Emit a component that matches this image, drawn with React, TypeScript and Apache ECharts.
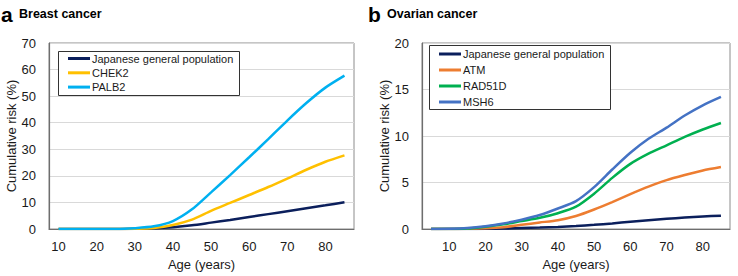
import React, { useEffect, useRef } from "react";
import * as echarts from "echarts";

const breastAges = ["10","15","20","25","30","35","40","45","50","55","60","65","70","75","80","85"];
const breastJapan = [0,0,0,0,0.1,0.3,0.7,1.4,2.4,3.4,4.5,5.6,6.7,7.8,8.9,10.1];
const breastCHEK2 = [0,0,0,0,0.1,0.4,1.5,3.5,6.8,9.8,12.8,15.8,19,22.3,25.3,27.7];
const breastPALB2 = [0,0,0,0,0.3,1.0,3.0,7.4,13.8,20.3,27,33.8,40.8,47.4,53.2,57.7];

const ovarianAges = ["5","10","15","20","25","30","35","40","45","50","55","60","65","70","75","80","85"];
const ovarianJapan = [0,0,0,0.02,0.05,0.1,0.15,0.22,0.32,0.45,0.6,0.78,0.95,1.1,1.23,1.35,1.43];
const ovarianATM = [0,0,0.02,0.08,0.2,0.45,0.7,0.95,1.4,2.1,2.9,3.75,4.55,5.25,5.8,6.3,6.67];
const ovarianRAD51D = [0,0,0.05,0.25,0.5,0.85,1.2,1.7,2.4,3.8,5.5,7.0,8.1,9.0,9.9,10.7,11.4];
const ovarianMSH6 = [0,0.02,0.1,0.3,0.6,1.0,1.5,2.2,3.0,4.5,6.4,8.2,9.7,10.9,12.2,13.3,14.2];

const FONT = "Liberation Sans";
const NAVY = "#0b1f5c";

export default function App() {
  const ref = useRef<HTMLDivElement>(null);
  useEffect(() => {
    const chart = echarts.init(ref.current!, null, { renderer: "svg" });
    const axisText = { fontFamily: FONT, fontSize: 13, color: "#1a1a1a" };
    const mkLine = (name: string, data: number[], color: string, xi: number) => ({
      name,
      type: "line",
      xAxisIndex: xi,
      yAxisIndex: xi,
      data,
      smooth: 0.25,
      symbol: "none",
      lineStyle: { color, width: 2.5 },
      itemStyle: { color },
    });
    const xAxisBase = {
      type: "category",
      boundaryGap: true,
      axisTick: { show: false },
      axisLine: { lineStyle: { color: "#6e6e6e", width: 1.2 } },
      axisLabel: { ...axisText, margin: 11 },
      name: "Age (years)",
      nameLocation: "middle",
      nameGap: 28,
      nameTextStyle: axisText,
    };
    const yAxisBase = {
      type: "value",
      axisLine: { show: true, lineStyle: { color: "#6e6e6e", width: 1.2 } },
      axisTick: { show: false },
      axisLabel: { ...axisText, margin: 13 },
      splitLine: { lineStyle: { color: "#d9d9d9" } },
      name: "Cumulative risk (%)",
      nameLocation: "middle",
      nameGap: 31,
      nameTextStyle: axisText,
    };
    const legendBase = {
      orient: "vertical",
      itemWidth: 22,
      itemHeight: 3,
      icon: "rect",
      textStyle: { fontFamily: FONT, fontSize: 11, color: "#1a1a1a", padding: [0, 0, 0, -3] },
      padding: 0,
      z: 6,
    };
    chart.setOption({
      animation: false,
      backgroundColor: "#fff",
      grid: [
        { left: 49, top: 43, width: 305, height: 186, show: true, borderColor: "#8c8c8c", borderWidth: 1 },
        { left: 422, top: 43, width: 308, height: 186, show: true, borderColor: "#8c8c8c", borderWidth: 1 },
      ],
      xAxis: [
        { ...xAxisBase, gridIndex: 0, data: breastAges, axisLabel: { ...xAxisBase.axisLabel, interval: 1 } },
        {
          ...xAxisBase,
          gridIndex: 1,
          data: ovarianAges,
          axisLabel: { ...xAxisBase.axisLabel, interval: (i: number, v: string) => Number(v) % 10 === 0 },
        },
      ],
      yAxis: [
        { ...yAxisBase, gridIndex: 0, min: 0, max: 70, interval: 10 },
        { ...yAxisBase, gridIndex: 1, min: 0, max: 20, interval: 5 },
      ],
      legend: [
        {
          ...legendBase,
          left: 68,
          top: 53,
          itemGap: 3.3,
          data: ["Japanese general population", "CHEK2", "PALB2"],
        },
        {
          ...legendBase,
          left: 439,
          top: 48.5,
          itemGap: 5,
          data: ["Japanese general population ", "ATM", "RAD51D", "MSH6"],
          formatter: (n: string) => n.trim(),
        },
      ],
      graphic: [
        { type: "rect", z: 5, shape: { x: 58.5, y: 51.5, width: 181, height: 44 }, style: { fill: "#fff", stroke: "#333", lineWidth: 1 } },
        { type: "rect", z: 5, shape: { x: 429.5, y: 45.5, width: 181, height: 64 }, style: { fill: "#fff", stroke: "#333", lineWidth: 1 } },
        { type: "text", left: 1, top: 4, style: { text: "a", font: `bold 21px ${FONT}`, fill: "#000" } },
        { type: "text", left: 19, top: 7, style: { text: "Breast cancer", font: `bold 12.5px ${FONT}`, fill: "#000" } },
        { type: "text", left: 368, top: 4, style: { text: "b", font: `bold 21px ${FONT}`, fill: "#000" } },
        { type: "text", left: 387, top: 7, style: { text: "Ovarian cancer", font: `bold 12.5px ${FONT}`, fill: "#000" } },
      ],
      series: [
        mkLine("Japanese general population", breastJapan, NAVY, 0),
        mkLine("CHEK2", breastCHEK2, "#ffc000", 0),
        mkLine("PALB2", breastPALB2, "#00b0f0", 0),
        mkLine("Japanese general population ", ovarianJapan, NAVY, 1),
        mkLine("ATM", ovarianATM, "#ed7d31", 1),
        mkLine("RAD51D", ovarianRAD51D, "#00b050", 1),
        mkLine("MSH6", ovarianMSH6, "#4472c4", 1),
      ],
    });
    return () => chart.dispose();
  }, []);
  return (
    <div
      ref={ref}
      style={{ position: "fixed", left: 0, top: 0, width: 738, height: 276, background: "#fff" }}
    />
  );
}
